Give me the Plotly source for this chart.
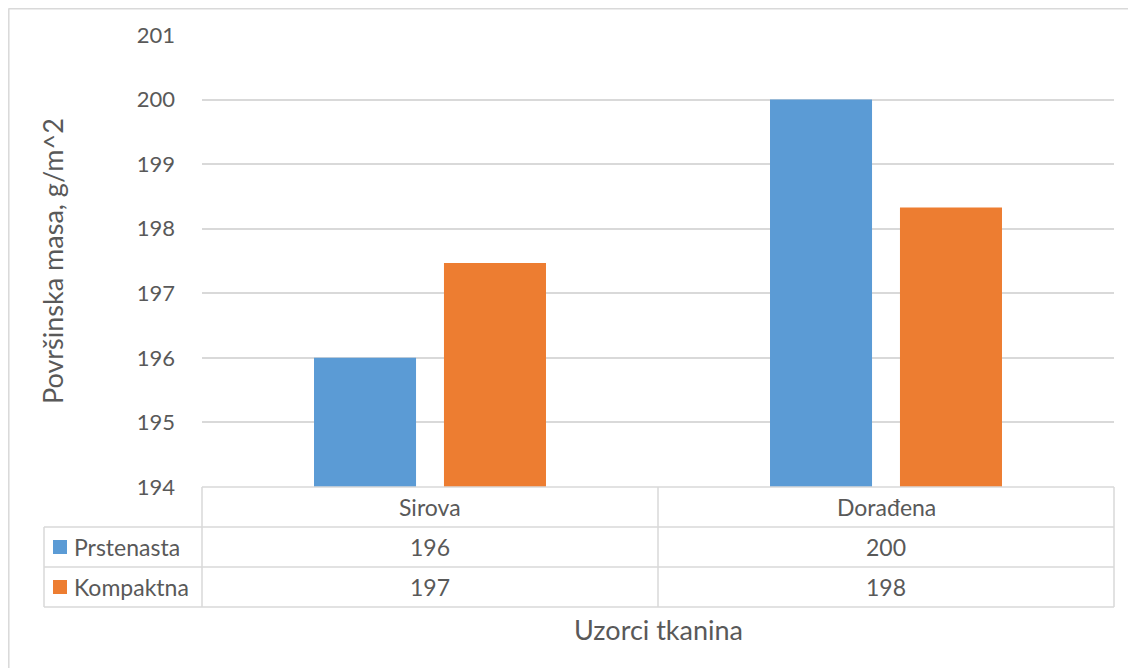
import plotly.graph_objects as go

categories = ["Sirova", "Dorađena"]
series_names = ["Prstenasta", "Kompaktna"]
prstenasta = [196.0, 200.0]
kompaktna = [197.47, 198.33]
series_values = [prstenasta, kompaktna]
colors = ["#5B9BD5", "#ED7D31"]
y_ticks = [194, 195, 196, 197, 198, 199, 200, 201]

OFF = 8  # page body margin
W, H = 1136 - OFF, 668 - OFF
L, R, T, B = 202 - OFF, 1114 - OFF, 35 - OFF, 487 - OFF
FONT = "Lato"
TXT = "#595959"
GRID = "#D9D9D9"


def px(x):
    return (x - OFF - L) / (R - L)


def py(y):
    return (B - (y - OFF)) / (B - T)


fig = go.Figure()
for name, vals, col in zip(series_names, series_values, colors):
    fig.add_trace(go.Bar(x=categories, y=vals, name=name, marker=dict(color=col, line=dict(width=0))))

shapes = []
tbl_rows = [487, 527, 567, 607]
for i, yy in enumerate(tbl_rows):
    x0 = 202 if i == 0 else 44
    shapes.append(dict(type="line", xref="paper", yref="paper", x0=px(x0), x1=px(1114), y0=py(yy), y1=py(yy),
                       line=dict(color=GRID, width=1.5)))
for xx, ytop in [(44, 527), (202, 487), (658, 487), (1114, 487)]:
    shapes.append(dict(type="line", xref="paper", yref="paper", x0=px(xx), x1=px(xx), y0=py(ytop), y1=py(607),
                       line=dict(color=GRID, width=1.5)))
# chart area border (top and left)
shapes.append(dict(type="line", xref="paper", yref="paper", x0=px(8.5), x1=px(1150), y0=py(8.8), y1=py(8.8),
                   line=dict(color=GRID, width=1.5)))
shapes.append(dict(type="line", xref="paper", yref="paper", x0=px(8.8), x1=px(8.8), y0=py(8.5), y1=py(680),
                   line=dict(color=GRID, width=1.5)))
# legend keys
for col, yc in zip(colors, [547, 587]):
    shapes.append(dict(type="rect", xref="paper", yref="paper", x0=px(53), x1=px(67), y0=py(yc - 7), y1=py(yc + 7),
                       fillcolor=col, line=dict(width=0)))

annotations = []
for c in categories:
    annotations.append(dict(x=c, xref="x", y=py(507), yref="paper", text=c, showarrow=False,
                            font=dict(family=FONT, size=23, color=TXT), xanchor="center", yanchor="middle"))
for vals, yc in zip(series_values, [547, 587]):
    for c, v in zip(categories, vals):
        annotations.append(dict(x=c, xref="x", y=py(yc), yref="paper", text=f"{round(v):d}", showarrow=False,
                                font=dict(family=FONT, size=23, color=TXT), xanchor="center", yanchor="middle"))
for name, yc in zip(series_names, [547, 587]):
    annotations.append(dict(x=px(72), xref="paper", y=py(yc), yref="paper", text=name, showarrow=False,
                            font=dict(family=FONT, size=23, color=TXT), xanchor="left", yanchor="middle"))
annotations.append(dict(x=px(658), xref="paper", y=py(629), yref="paper", text="Uzorci tkanina", showarrow=False,
                        font=dict(family=FONT, size=27, color=TXT), xanchor="center", yanchor="middle"))
annotations.append(dict(x=px(52), xref="paper", y=py(261), yref="paper", text="Površinska masa, g/m^2",
                        showarrow=False, textangle=-90,
                        font=dict(family=FONT, size=27, color=TXT), xanchor="center", yanchor="middle"))

fig.update_layout(
    width=W, height=H,
    margin=dict(l=L, r=W - R, t=T, b=H - B),
    paper_bgcolor="white", plot_bgcolor="white",
    barmode="group", bargap=0.43, bargroupgap=0.215,
    showlegend=False,
    shapes=shapes, annotations=annotations,
    xaxis=dict(showticklabels=False, showgrid=False, zeroline=False, showline=False, ticks=""),
    yaxis=dict(range=[194, 201], tickvals=y_ticks, showgrid=True, gridcolor=GRID, gridwidth=1.5,
               zeroline=False, showline=False, ticks="", ticklabelstandoff=26,
               tickfont=dict(family=FONT, size=22, color=TXT)),
    font=dict(family=FONT, color=TXT),
)

fig.write_html("out.html")
